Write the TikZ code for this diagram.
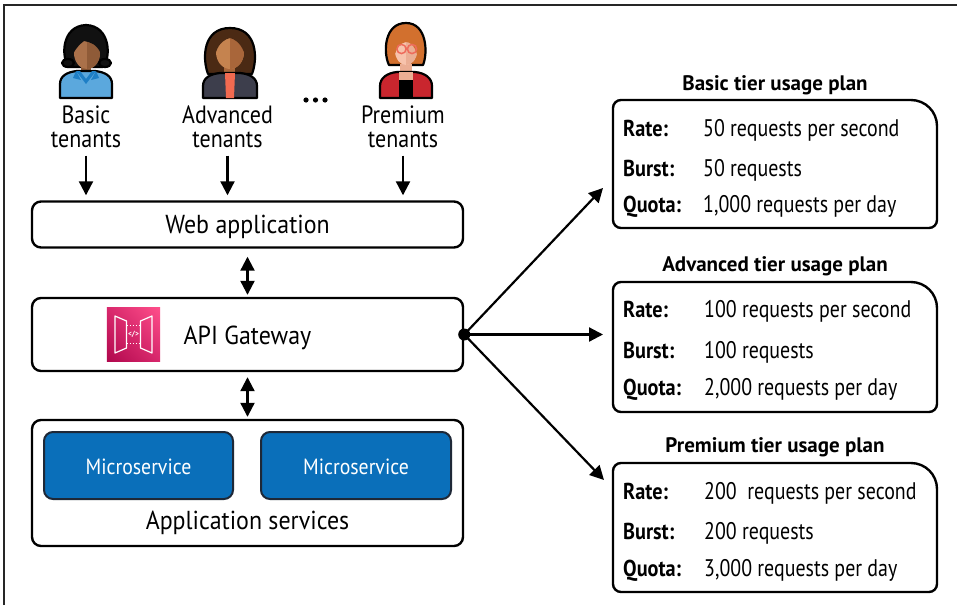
\documentclass[tikz,border=0pt]{standalone}
\usepackage{fontspec}
\setmainfont{PT Sans}
\newfontfamily\fntbig{PT Sans}[FakeStretch=0.92]
\newfontfamily\fntlab{PT Sans}[FakeStretch=0.88]
\newfontfamily\fntms{PT Sans}[FakeStretch=0.9]
\newfontfamily\fntkey{PT Sans}[FakeStretch=0.88]
\newfontfamily\fntval{PT Sans}[FakeStretch=0.83]
\usetikzlibrary{arrows.meta,calc,shadings}

\definecolor{msblue}{RGB}{10,111,186}
\definecolor{msedge}{RGB}{30,40,55}
\definecolor{gwdark}{RGB}{176,8,77}
\definecolor{gwlight}{RGB}{255,79,139}
\definecolor{gwmid}{RGB}{216,40,108}
% tenant palettes
\definecolor{skinA}{RGB}{170,113,74}
\definecolor{skinAd}{RGB}{143,91,56}
\definecolor{shirtA}{RGB}{91,168,221}
\definecolor{collarA}{RGB}{30,127,198}
\definecolor{hairA}{RGB}{17,17,17}
\definecolor{skinB}{RGB}{197,131,79}
\definecolor{skinBd}{RGB}{169,102,58}
\definecolor{hairB}{RGB}{75,42,20}
\definecolor{jacketB}{RGB}{61,62,76}
\definecolor{shirtB}{RGB}{242,106,80}
\definecolor{skinC}{RGB}{247,195,172}
\definecolor{skinCd}{RGB}{235,174,148}
\definecolor{hairC}{RGB}{210,112,46}
\definecolor{glassC}{RGB}{238,107,91}
\definecolor{jacketC}{RGB}{201,38,46}

% usage-plan outline: x0 y0 x1 y1, big radius on the upper right corner
\newcommand\planshape[4]{%
  \draw[line width=2.4pt] (#1+8,#2) -- (#3-26,#2)
    arc[start angle=-90,end angle=0,radius=26] -- (#3,#4-8)
    arc[start angle=0,end angle=90,radius=8] -- (#1+8,#4)
    arc[start angle=90,end angle=180,radius=8] -- (#1,#2+8)
    arc[start angle=180,end angle=270,radius=8] -- cycle;}

\begin{document}
\begin{tikzpicture}[x=1pt,y=-1pt,
  >={Triangle[length=14pt,width=14pt]},
  box/.style={draw=black,line width=2.4pt,rounded corners=9pt,fill=white,inner sep=0pt},
  msbox/.style={draw=msedge,line width=2pt,rounded corners=9pt,fill=msblue,inner sep=0pt,
    minimum height=67pt},
  big/.style={font=\fntbig\fontsize{26}{30}\selectfont,inner sep=0pt,anchor=base},
  tlabel/.style={font=\fntlab\fontsize{25}{28}\selectfont,inner sep=0pt,anchor=base},
  mslabel/.style={font=\fntms\fontsize{22}{26}\selectfont,text=white,inner sep=0pt,anchor=base},
  ptitle/.style={font=\bfseries\fontsize{21}{24}\selectfont,inner sep=0pt,anchor=base},
  pkey/.style={font=\fntkey\bfseries\fontsize{23}{26}\selectfont,inner sep=0pt,anchor=base west},
  pval/.style={font=\fntval\fontsize{24}{27}\selectfont,inner sep=0pt,anchor=base west},
  arr/.style={line width=2.2pt,->},
  darr/.style={line width=2.2pt,<->},
  outline/.style={draw=black,line width=2.2pt,line join=round}]

\useasboundingbox (0,0) rectangle (957,605);
% page frame (top and left rules)
\draw[line width=1.6pt,black!85] (4,605) -- (4,5) -- (957,5);

% ---------- tenants ----------
% basic tenant
\begin{scope}[shift={(86,98)}]
  \filldraw[fill=hairA,outline] (-17,-31) .. controls (-25,-40) and (-25,-72) .. (0,-73)
     .. controls (25,-72) and (25,-40) .. (17,-31) -- cycle;
  \filldraw[fill=hairA,outline] (-18,-35) ellipse (6 and 4);
  \filldraw[fill=hairA,outline] (19,-35) ellipse (6 and 4);
  \fill[skinAd] (-5,-34) rectangle (5,-24);
  \filldraw[fill=shirtA,outline] (-26,0) -- (-26,-14) .. controls (-26,-22) and (-19,-26) .. (-9,-27)
     -- (9,-27) .. controls (19,-26) and (26,-22) .. (26,-14) -- (26,0) -- cycle;
  \fill[collarA] (-10,-27) -- (0,-14) -- (10,-27) -- (6,-27) -- (0,-19) -- (-6,-27) -- cycle;
  \fill[collarA] (-10,-27) -- (-5,-18) -- (-13,-20) -- cycle;
  \fill[collarA] (10,-27) -- (5,-18) -- (13,-20) -- cycle;
  \fill[skinA] (1,-45) ellipse (13 and 16);
  \begin{scope}\clip (1,-70) rectangle (20,-20); \fill[skinAd] (1,-45) ellipse (13 and 16);\end{scope}
  \fill[hairA] (-13,-44) .. controls (-15,-62) and (-6,-66) .. (2,-66)
     .. controls (11,-66) and (17,-60) .. (15,-44) .. controls (11,-54) and (4,-56) .. (-2,-57)
     .. controls (-6,-54) and (-10,-50) .. (-13,-44) -- cycle;
\end{scope}
% advanced tenant
\begin{scope}[shift={(229,98)}]
  \filldraw[fill=hairB,outline] (-21,-24) .. controls (-27,-40) and (-26,-70) .. (1,-70)
     .. controls (28,-70) and (29,-40) .. (23,-24) -- cycle;
  \fill[skinBd] (-5,-34) rectangle (6,-24);
  \filldraw[fill=jacketB,outline] (-26,0) -- (-26,-12) .. controls (-26,-20) and (-19,-24) .. (-9,-25)
     -- (11,-25) .. controls (21,-24) and (28,-20) .. (28,-12) -- (28,0) -- cycle;
  \fill[shirtB] (-4,-25) -- (6,-25) -- (5,0) -- (-3,0) -- cycle;
  \fill[skinB] (1,-46) ellipse (14 and 17);
  \begin{scope}\clip (1,-70) rectangle (20,-20); \fill[skinBd] (1,-46) ellipse (14 and 17);\end{scope}
  \fill[hairB] (-13,-46) .. controls (-14,-60) and (-7,-64) .. (1,-64)
     .. controls (9,-64) and (16,-60) .. (15,-46) .. controls (11,-56) and (5,-59) .. (1,-60)
     .. controls (-4,-59) and (-10,-55) .. (-13,-46) -- cycle;
\end{scope}
% premium tenant
\begin{scope}[shift={(405,98)}]
  \filldraw[fill=hairC,outline] (-16,-33) .. controls (-22,-45) and (-21,-75) .. (1,-75)
     .. controls (22,-75) and (23,-45) .. (18,-33) -- cycle;
  \fill[skinCd] (-5,-34) rectangle (7,-24);
  \filldraw[fill=jacketC,outline] (-25,0) -- (-25,-12) .. controls (-25,-20) and (-18,-25) .. (-8,-26)
     -- (10,-26) .. controls (20,-25) and (27,-20) .. (27,-12) -- (27,0) -- cycle;
  \fill[black] (-6,-18) rectangle (8,0);
  \fill[skinCd] (-6,-26) -- (8,-26) -- (8,-18) -- (-6,-18) -- cycle;
  \fill[skinC] (1,-47) ellipse (11 and 14);
  \begin{scope}\clip (1,-70) rectangle (20,-20); \fill[skinCd] (1,-47) ellipse (11 and 14);\end{scope}
  \fill[hairC] (-10,-44) .. controls (-12,-58) and (-6,-62) .. (1,-62)
     .. controls (8,-62) and (13,-58) .. (12,-44) .. controls (9,-53) and (5,-56) .. (1,-56)
     .. controls (-4,-55) and (-8,-51) .. (-10,-44) -- cycle;
  \draw[glassC,line width=1.5pt] (-3.5,-49) circle (4.6) (7,-49) circle (4.6) (1,-50) -- (2.5,-50);
\end{scope}
% ellipsis between tenant groups
\fill (306,100) circle (2.6) (315.5,100) circle (2.6) (325,100) circle (2.6);

\node[tlabel] (t1a) at (86,123) {Basic};
\node[tlabel] (t1)  at (86,147) {tenants};
\node[tlabel] (t2a) at (227.5,123) {Advanced};
\node[tlabel] (t2)  at (227.5,147) {tenants};
\node[tlabel] (t3a) at (403,123) {Premium};
\node[tlabel] (t3)  at (403,147) {tenants};

% ---------- left stack ----------
\node[box,minimum width=431pt,minimum height=46pt] (web) at (247.5,224.5) {};
\node[big] (webt) at (247.5,233) {Web application};

\node[box,minimum width=431pt,minimum height=73pt] (api) at (247.5,334.5) {};
\node[big] (apit) at (247.5,344) {API Gateway};

\node[box,minimum width=431pt,minimum height=126pt] (app) at (247.5,483) {};
\node[big] (appt) at (247.5,529) {Application services};

\node[msbox,minimum width=189pt] (ms1) at (138.5,465.5) {};
\node[mslabel] (ms1t) at (138.5,474) {Microservice};
\node[msbox,minimum width=190pt] (ms2) at (356,465.5) {};
\node[mslabel] (ms2t) at (356,474) {Microservice};

% API Gateway service icon
\node[inner sep=0pt,minimum size=53pt] (gwicon) at (133.5,334.5) {};
\shade[upper right=gwlight,lower left=gwdark,upper left=gwmid,lower right=gwmid]
  (gwicon.south west) rectangle (gwicon.north east);
\begin{scope}[white,line width=1.2pt,line join=round]
  \draw (115,316) -- (126.5,321) -- (126.5,348) -- (115,353) -- cycle;
  \draw (152,316) -- (140.5,321) -- (140.5,348) -- (152,353) -- cycle;
  \draw[dash pattern=on 1.6pt off 1.4pt] (126.5,325.5) -- (140.5,325.5) (126.5,343.5) -- (140.5,343.5);
\end{scope}
\node[text=white,font=\bfseries\fontsize{7.5}{8}\selectfont,inner sep=0pt] (gwcode) at (133.5,334.5) {</>};

% tenant requests
\draw[arr] ([yshift=-8pt]t1.south) -- ([yshift=5pt]t1.south |- web.north);
\draw[arr] ([yshift=-8pt]t2.south) -- ([yshift=5pt]t2.south |- web.north);
\draw[arr] ([yshift=-8pt]t3.south) -- ([yshift=5pt]t3.south |- web.north);
% stack links
\draw[darr] ([yshift=-8pt]web.south) -- ([yshift=2pt]api.north);
\draw[darr] ([yshift=-5pt]api.south) -- ([yshift=2pt]app.north);

% ---------- usage plans ----------
\node[inner sep=0pt,minimum width=324pt,minimum height=128pt] (planA) at (775,164) {};
\node[inner sep=0pt,minimum width=324pt,minimum height=130pt] (planB) at (775,347) {};
\node[inner sep=0pt,minimum width=324pt,minimum height=129pt] (planC) at (775,527.5) {};
\planshape{613}{100}{937}{228}
\planshape{613}{282}{937}{412}
\planshape{613}{463}{937}{592}

\node[ptitle] (titA) at (775,90) {Basic tier usage plan};
\node[ptitle] (titB) at (775,271) {Advanced tier usage plan};
\node[ptitle] (titC) at (775,452) {Premium tier usage plan};

\node[pkey] (rA) at (623,136) {Rate:};
\node[pkey] (bA) at (623,176) {Burst:};
\node[pkey] (qA) at (623,212) {Quota:};
\node[pval] (rAv) at (703,136) {50 requests per second};
\node[pval] (bAv) at (703,176) {50 requests};
\node[pval] (qAv) at (703,212) {1,000 requests per day};

\node[pkey] (rB) at (623,317) {Rate:};
\node[pkey] (bB) at (623,358) {Burst:};
\node[pkey] (qB) at (623,395) {Quota:};
\node[pval] (rBv) at (704,317) {100 requests per second};
\node[pval] (bBv) at (704,358) {100 requests};
\node[pval] (qBv) at (704,395) {2,000 requests per day};

\node[pkey] (rC) at (623,499) {Rate:};
\node[pkey] (bC) at (623,539) {Burst:};
\node[pkey] (qC) at (623,576) {Quota:};
\node[pval] (rCv) at (704,499) {200\ \ requests per second};
\node[pval] (bCv) at (704,539) {200 requests};
\node[pval] (qCv) at (704,576) {3,000 requests per day};

% gateway fan-out to the plans
\node[circle,fill=black,inner sep=0pt,minimum size=12pt] (hub) at (api.east) {};
\coordinate (toA) at (603,188);
\coordinate (toB) at (603,334.5);
\coordinate (toC) at (604,480);
\draw[arr] (hub.center) -- (toA);
\draw[arr] (hub.center) -- (toB);
\draw[arr] (hub.center) -- (toC);
\end{tikzpicture}
\end{document}
